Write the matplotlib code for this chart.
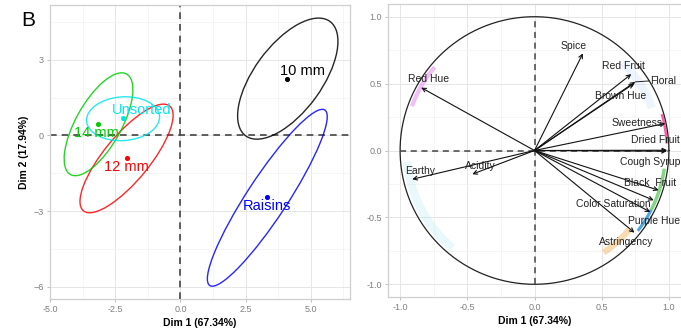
import numpy as np
import matplotlib
matplotlib.use('Agg')
import matplotlib.pyplot as plt
from matplotlib.patches import Ellipse

plt.rcParams['font.family'] = ['Liberation Sans', 'DejaVu Sans']

# Left panel: group means and confidence ellipses
groups = ['10 mm', 'Raisins', '12 mm', '14 mm', 'Unsorted']
group_colors = ['#000000', '#0000FF', '#FF0000', '#00CD00', '#00E5EE']
mean_x = [4.1, 3.33, -2.05, -3.17, -2.21]
mean_y = [2.25, -2.46, -0.91, 0.44, 0.67]
label_x = [4.69, 3.3, -2.08, -3.23, -1.47]
label_y = [2.55, -2.8, -1.24, 0.1, 1.0]
ell_cx = [4.115, 3.33, -2.065, -3.14, -2.2]
ell_cy = [2.25, -2.475, -0.915, 0.44, 0.66]
ell_a = [2.785, 4.12, 2.655, 2.265, 1.402]
ell_b = [1.307, 0.78, 0.883, 0.877, 0.867]
ell_angle = [55.0, 57.7, 51.7, 61.9, 4.1]

# Right panel: variable loadings
variables = ['Spice', 'Red Fruit', 'Floral', 'Brown Hue', 'Sweetness', 'Dried Fruit',
             'Cough Syrup', 'Black  Fruit', 'Color Saturation', 'Purple Hue',
             'Astringency', 'Red Hue', 'Earthy', 'Acidity']
load_x = [0.36, 0.72, 0.75, 0.74, 0.974, 0.987, 0.985, 0.924, 0.887, 0.862,
          0.744, -0.843, -0.91, -0.463]
load_y = [0.726, 0.571, 0.513, 0.50, 0.202, 0.002, -0.005, -0.297, -0.372, -0.46,
          -0.614, 0.47, -0.215, -0.177]
var_lab_x = [0.29, 0.66, 0.955, 0.64, 0.76, 0.90, 0.86, 0.86, 0.59, 0.887,
             0.684, -0.786, -0.848, -0.40]
var_lab_y = [0.78, 0.63, 0.52, 0.41, 0.207, 0.075, -0.085, -0.243, -0.40, -0.527,
             -0.684, 0.534, -0.155, -0.117]

# dense bands of individual points along the circle
band_start = [140, 3, -8, -27, -40, 185, 20]
band_end = [160, 16, -27, -38, -56, 230, 45]
band_r = [0.97, 0.985, 0.975, 0.975, 0.92, 0.95, 0.93]
band_colors = ['#e070f0', '#ff3399', '#33bb33', '#1f8fe0', '#f0b050', '#6fd8e8', '#a8c8f0']
band_alpha = [0.45, 0.8, 0.6, 0.8, 0.45, 0.15, 0.2]
band_lw = [3.0, 1.8, 2.5, 2.2, 4.5, 6, 6]

grid_major = '#e6e6e6'
grid_minor = '#f2f2f2'
border = '#cfcfcf'
tick_col = '#7f7f7f'


def style_axes(ax):
    for s in ax.spines.values():
        s.set_color(border)
        s.set_linewidth(0.9)
    ax.tick_params(which='major', length=2.5, width=0.6, color='#b3b3b3',
                   labelsize=6.5, labelcolor=tick_col, pad=2)
    ax.tick_params(which='minor', length=0)
    ax.grid(True, which='major', color=grid_major, lw=0.7, zorder=0)
    ax.grid(True, which='minor', color=grid_minor, lw=0.5, zorder=0)
    ax.set_axisbelow(True)


fig = plt.figure(figsize=(6.81, 3.28), dpi=100)

# ---- left panel
ax1 = fig.add_axes([50 / 681, 1 - 299 / 328, 300 / 681, 294 / 328])
ax1.set_xlim(-5.0, 6.5)
ax1.set_ylim(-6.49, 5.17)
ax1.set_xticks([-5.0, -2.5, 0.0, 2.5, 5.0])
ax1.set_xticklabels(['-5.0', '-2.5', '0.0', '2.5', '5.0'])
ax1.set_xticks([-3.75, -1.25, 1.25, 3.75, 6.25], minor=True)
ax1.set_yticks([3, 0, -3, -6])
ax1.set_yticks([4.5, 1.5, -1.5, -4.5], minor=True)
style_axes(ax1)
ax1.axhline(0, color='#444444', lw=1.2, ls=(0, (4, 3)), zorder=1)
ax1.axvline(0, color='#444444', lw=1.2, ls=(0, (4, 3)), zorder=1)

for i, g in enumerate(groups):
    e = Ellipse((ell_cx[i], ell_cy[i]), 2 * ell_a[i], 2 * ell_b[i], angle=ell_angle[i],
                fill=False, edgecolor=group_colors[i], lw=1.0, alpha=0.85, zorder=2)
    ax1.add_patch(e)
    ax1.scatter(mean_x[i], mean_y[i], s=7, color=group_colors[i], zorder=3)
    ax1.text(label_x[i], label_y[i], g, color=group_colors[i], fontsize=10.5,
             ha='center', va='center', zorder=4)

ax1.set_xlabel('Dim 1 (67.34%)', fontsize=7.5, fontweight='bold', labelpad=3)
ax1.set_ylabel('Dim 2 (17.94%)', fontsize=7.5, fontweight='bold', labelpad=3)

fig.text(28 / 681, 1 - 21 / 328, 'B', fontsize=15, ha='center', va='center')

# ---- right panel
ax2 = fig.add_axes([388 / 681, 1 - 297 / 328, 293 / 681, 293 / 328])
ax2.set_xlim(-1.09, 1.09)
ax2.set_ylim(-1.095, 1.095)
ax2.set_xticks([-1.0, -0.5, 0.0, 0.5, 1.0])
ax2.set_xticklabels(['-1.0', '-0.5', '0.0', '0.5', '1.0'])
ax2.set_xticks([-0.75, -0.25, 0.25, 0.75], minor=True)
ax2.set_yticks([-1.0, -0.5, 0.0, 0.5, 1.0])
ax2.set_yticklabels(['-1.0', '-0.5', '0.0', '0.5', '1.0'])
ax2.set_yticks([-0.75, -0.25, 0.25, 0.75], minor=True)
style_axes(ax2)
ax2.spines['right'].set_visible(False)

for i in range(len(band_start)):
    t = np.radians(np.linspace(band_start[i], band_end[i], 60))
    ax2.plot(band_r[i] * np.cos(t), band_r[i] * np.sin(t), color=band_colors[i],
             alpha=band_alpha[i], lw=band_lw[i], solid_capstyle='butt', zorder=1)

t = np.linspace(0, 2 * np.pi, 400)
ax2.plot(np.cos(t), np.sin(t), color='#222222', lw=0.9, zorder=2)
ax2.plot([-1, 1], [0, 0], color='#444444', lw=1.1, ls=(0, (4, 3)), zorder=2)
ax2.plot([0, 0], [-1, 1], color='#444444', lw=1.1, ls=(0, (4, 3)), zorder=2)

for i, v in enumerate(variables):
    ax2.annotate('', xy=(load_x[i], load_y[i]), xytext=(0, 0),
                 arrowprops=dict(arrowstyle='->', lw=0.8, color='#111111',
                                 shrinkA=0, shrinkB=0, mutation_scale=7), zorder=3)
    ax2.text(var_lab_x[i], var_lab_y[i], v, fontsize=7.5, color='#222222',
             ha='center', va='center', zorder=4)

# segment from Floral arrow tip to its label
ax2.plot([load_x[2], var_lab_x[2] - 0.1], [load_y[2], var_lab_y[2]], color='#222222',
         lw=0.7, zorder=3)

ax2.set_xlabel('Dim 1 (67.34%)', fontsize=7.5, fontweight='bold', labelpad=3)

fig.savefig('out.png', dpi=100)
